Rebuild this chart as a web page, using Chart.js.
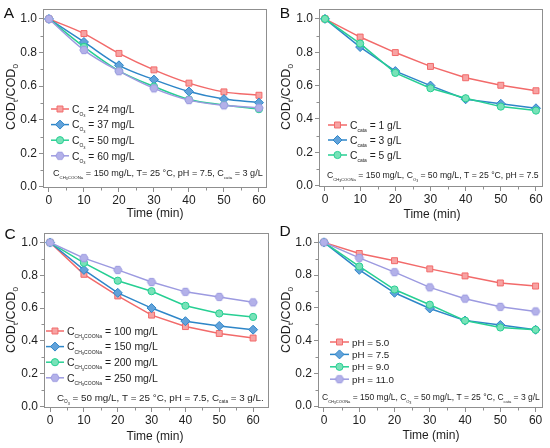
<!DOCTYPE html>
<html>
<head>
<meta charset="utf-8">
<script src="https://cdn.jsdelivr.net/npm/chart.js@4.4.1/dist/chart.umd.min.js"></script>
<style>
  html, body { margin: 0; padding: 0; background: #fff; }
  #grid { display: grid; grid-template-columns: 275px 275px; grid-template-rows: 224px 224px; width: 550px; height: 448px; }
  .cell { position: relative; width: 275px; height: 224px; }
</style>
</head>
<body>
<div id="grid">
  <div class="cell"><canvas id="panelA"></canvas></div>
  <div class="cell"><canvas id="panelB"></canvas></div>
  <div class="cell"><canvas id="panelC"></canvas></div>
  <div class="cell"><canvas id="panelD"></canvas></div>
</div>
<script>
// time axis and ticks
const times = [0, 10, 20, 30, 40, 50, 60];
const xTicks = [0, 10, 20, 30, 40, 50, 60];
const xMinor = [5, 15, 25, 35, 45, 55, 65];
const yTicks = [0.0, 0.2, 0.4, 0.6, 0.8, 1.0];
const yMinor = [0.1, 0.3, 0.5, 0.7, 0.9];

// A: ozone concentration
const codO3_24 = [1.0, 0.913, 0.795, 0.697, 0.618, 0.566, 0.546];
const codO3_37 = [1.0, 0.863, 0.724, 0.639, 0.568, 0.523, 0.502];
const codO3_50 = [1.0, 0.834, 0.691, 0.598, 0.521, 0.488, 0.463];
const codO3_60 = [1.0, 0.815, 0.689, 0.587, 0.517, 0.486, 0.471];

// B: catalyst dose
const codCata1 = [1.0, 0.891, 0.798, 0.715, 0.647, 0.602, 0.569];
const codCata3 = [1.0, 0.831, 0.687, 0.600, 0.518, 0.491, 0.464];
const codCata5 = [1.0, 0.852, 0.676, 0.584, 0.524, 0.474, 0.450];

// C: sodium acetate concentration
const codAc100 = [1.0, 0.806, 0.674, 0.557, 0.487, 0.445, 0.417];
const codAc150 = [1.0, 0.833, 0.693, 0.600, 0.520, 0.491, 0.468];
const codAc200 = [1.0, 0.876, 0.767, 0.703, 0.614, 0.567, 0.546];
const codAc250 = [1.0, 0.905, 0.833, 0.759, 0.699, 0.668, 0.635];

// D: pH
const codPh50 = [1.0, 0.932, 0.888, 0.838, 0.795, 0.752, 0.733];
const codPh75 = [1.0, 0.832, 0.692, 0.596, 0.522, 0.495, 0.466];
const codPh90 = [1.0, 0.853, 0.712, 0.619, 0.522, 0.480, 0.466];
const codPh110 = [1.0, 0.905, 0.818, 0.725, 0.656, 0.606, 0.578];

// rich text pieces: [text, level] level 0 normal, 1 subscript, 2 sub-subscript
const CO3 = [['C', 0], ['O', 1], ['3', 2]];
const CAC = [['C', 0], ['CH', 1], ['3', 2], ['COONa', 1]];
const CCATA = [['C', 0], ['cata', 1]];
const t = s => [[s, 0]];

const labelsA = [
  [...CO3, ...t(' = 24 mg/L')], [...CO3, ...t(' = 37 mg/L')],
  [...CO3, ...t(' = 50 mg/L')], [...CO3, ...t(' = 60 mg/L')]
];
const labelsB = [
  [...CCATA, ...t(' = 1 g/L')], [...CCATA, ...t(' = 3 g/L')], [...CCATA, ...t(' = 5 g/L')]
];
const labelsC = [
  [...CAC, ...t(' = 100 mg/L')], [...CAC, ...t(' = 150 mg/L')],
  [...CAC, ...t(' = 200 mg/L')], [...CAC, ...t(' = 250 mg/L')]
];
const labelsD = [t('pH = 5.0'), t('pH = 7.5'), t('pH = 9.0'), t('pH = 11.0')];

const noteA = [...CAC, ...t(' = 150 mg/L, T= 25 \u00B0C, pH = 7.5, '), ...CCATA, ...t(' = 3 g/L')];
const noteB = [...CAC, ...t(' = 150 mg/L, '), ...CO3, ...t(' = 50 mg/L, T = 25 \u00B0C, pH = 7.5')];
const noteC = [...CO3, ...t(' = 50 mg/L, T = 25 \u00B0C, pH = 7.5, '), ...CCATA, ...t(' = 3 g/L.')];
const noteD = [...CAC, ...t(' = 150 mg/L, '), ...CO3, ...t(' = 50 mg/L, T = 25 \u00B0C, '), ...CCATA, ...t(' = 3 g/L')];

const yTitle = [['COD', 0], ['t', 1], ['/COD', 0], ['0', 1]];

const FONT = '"Liberation Sans", Arial, Helvetica, sans-serif';
const TEXT = '#1e1e1e';
const FRAME = '#8f8f8f';

function hexagon(r, fill, stroke) {
  const c = document.createElement('canvas');
  const s = Math.ceil(r * 2 + 3);
  c.width = c.height = s;
  const g = c.getContext('2d');
  g.beginPath();
  for (let k = 0; k < 6; k++) {
    const a = k * Math.PI / 3;
    const px = s / 2 + r * Math.cos(a), py = s / 2 + r * Math.sin(a);
    k ? g.lineTo(px, py) : g.moveTo(px, py);
  }
  g.closePath();
  g.fillStyle = fill; g.fill();
  g.strokeStyle = stroke; g.lineWidth = 1; g.stroke();
  return c;
}

const styles = [
  { line: '#f26a6a', fill: '#f7a3a3', point: 'rect', r: 4.2 },
  { line: '#2e86c8', fill: '#62a2da', point: 'rectRot', r: 4.5 },
  { line: '#27cf93', fill: '#78e2b8', point: 'circle', r: 3.6 },
  { line: '#9c9ae0', fill: '#b3b1e9', point: hexagon(4.2, '#b3b1e9', '#9c9ae0'), r: 4.2 }
];

// sub: relative size of first-level subscripts
function richParts(ctx, segs, size, sub) {
  return segs.map(([txt, lv]) => {
    const fs = lv === 0 ? size : lv === 1 ? size * sub : size * sub * 0.8;
    const dy = lv === 0 ? 0 : lv === 1 ? size * 0.3 : size * 0.45;
    ctx.font = fs + 'px ' + FONT;
    return { txt, fs, dy, w: ctx.measureText(txt).width };
  });
}

function drawRich(ctx, segs, x, cy, size, align, sub = 0.48) {
  const parts = richParts(ctx, segs, size, sub);
  const w = parts.reduce((a, p) => a + p.w, 0);
  let cx = align === 'center' ? x - w / 2 : x;
  const base = cy + size * 0.36;
  ctx.fillStyle = TEXT;
  ctx.textAlign = 'left';
  ctx.textBaseline = 'alphabetic';
  parts.forEach(p => {
    ctx.font = p.fs + 'px ' + FONT;
    ctx.fillText(p.txt, cx, base + p.dy);
    cx += p.w;
  });
}

function decoPlugin(d) {
  return {
    id: 'deco',
    afterDraw(chart) {
      const ctx = chart.ctx;
      const { left, top, right, bottom } = chart.chartArea;
      const xs = chart.scales.x, ys = chart.scales.y;
      ctx.save();
      // frame
      ctx.strokeStyle = FRAME;
      ctx.lineWidth = 1;
      ctx.strokeRect(Math.round(left) + 0.5, Math.round(top) + 0.5, Math.round(right - left) - 1, Math.round(bottom - top) - 1);
      // minor ticks
      ctx.beginPath();
      xMinor.forEach(v => {
        if (v < xs.min || v > xs.max) return;
        const px = Math.round(xs.getPixelForValue(v)) + 0.5;
        ctx.moveTo(px, bottom); ctx.lineTo(px, bottom + 2.5);
      });
      yMinor.forEach(v => {
        const py = Math.round(ys.getPixelForValue(v)) + 0.5;
        ctx.moveTo(left, py); ctx.lineTo(left - 2.5, py);
      });
      ctx.stroke();
      // panel letter
      ctx.fillStyle = '#111';
      ctx.font = '15.5px ' + FONT;
      ctx.textAlign = 'center';
      ctx.textBaseline = 'middle';
      ctx.fillText(d.letter, d.letterPos[0], d.letterPos[1]);
      // axis titles
      drawRich(ctx, t('Time (min)'), d.xTitle[0], d.xTitle[1], 12, 'center');
      ctx.save();
      ctx.translate(d.yTitle[0], d.yTitle[1]);
      ctx.rotate(-Math.PI / 2);
      drawRich(ctx, yTitle, 0, 0, 12.5, 'center', 0.65);
      ctx.restore();
      // legend
      const lg = d.legend;
      lg.labels.forEach((lab, i) => {
        const st = styles[i];
        const cy = lg.y + i * lg.dy;
        ctx.strokeStyle = st.line;
        ctx.lineWidth = 1.5;
        ctx.beginPath();
        ctx.moveTo(lg.x, cy); ctx.lineTo(lg.x + lg.len, cy);
        ctx.stroke();
        ctx.fillStyle = st.fill;
        ctx.strokeStyle = st.line;
        ctx.lineWidth = 1;
        Chart.helpers.drawPoint(ctx, { pointStyle: st.point, radius: st.r, rotation: 0, borderWidth: 1 }, lg.x + lg.len / 2, cy);
        drawRich(ctx, lab, lg.x + lg.len + 3, cy, lg.size, 'left');
      });
      // condition note, scaled to its width
      const n = d.note;
      const w0 = richParts(ctx, n.segs, 10, 0.48).reduce((a, p) => a + p.w, 0);
      drawRich(ctx, n.segs, n.x, n.y, 10 * n.w / w0, 'left');
      ctx.restore();
    }
  };
}

function makePanel(id, series, d) {
  const W = 275, H = 224, yW = 30, xH = 20;
  const box = d.box;
  new Chart(document.getElementById(id), {
    type: 'line',
    data: {
      labels: times,
      datasets: series.map((vals, i) => ({
        data: times.map((x, k) => ({ x, y: vals[k] })),
        borderColor: styles[i].line,
        backgroundColor: styles[i].fill,
        pointBackgroundColor: styles[i].fill,
        pointBorderColor: styles[i].line,
        pointBorderWidth: 1,
        pointStyle: styles[i].point,
        pointRadius: styles[i].r,
        borderWidth: 1.5,
        cubicInterpolationMode: d.smooth ? 'monotone' : 'default',
        tension: 0,
        order: -i
      }))
    },
    options: {
      responsive: true,
      maintainAspectRatio: false,
      animation: false,
      events: [],
      layout: { padding: { left: box.left - yW, top: box.top, right: W - box.right, bottom: H - box.bottom - xH } },
      plugins: { legend: { display: false }, tooltip: { enabled: false } },
      scales: {
        x: {
          type: 'linear', min: d.xRange[0], max: d.xRange[1],
          afterFit: s => { s.height = xH; },
          afterBuildTicks: s => { s.ticks = xTicks.map(v => ({ value: v })); },
          border: { display: false },
          grid: { drawOnChartArea: false, drawTicks: true, tickLength: 4, color: FRAME },
          ticks: { font: { family: FONT, size: 12 }, color: TEXT, padding: 1, maxRotation: 0, autoSkip: false }
        },
        y: {
          type: 'linear', min: d.yRange[0], max: d.yRange[1],
          afterFit: s => { s.width = yW; },
          afterBuildTicks: s => { s.ticks = yTicks.map(v => ({ value: v })); },
          border: { display: false },
          grid: { drawOnChartArea: false, drawTicks: true, tickLength: 4, color: FRAME },
          ticks: { font: { family: FONT, size: 12 }, color: TEXT, padding: 2, callback: v => v.toFixed(1) }
        }
      }
    },
    plugins: [decoPlugin(d)]
  });
}

makePanel('panelA', [codO3_24, codO3_37, codO3_50, codO3_60], {
  box: { left: 43, top: 4, right: 267, bottom: 188 }, xRange: [-1.7, 62.3], yRange: [-0.006, 1.058], smooth: true,
  letter: 'A', letterPos: [9, 14], xTitle: [155, 213], yTitle: [10, 97],
  legend: { x: 51, y: 109, dy: 15.6, len: 18, size: 10.3, labels: labelsA },
  note: { x: 53, y: 173, w: 210, segs: noteA }
});
makePanel('panelB', [codCata1, codCata3, codCata5], {
  box: { left: 44, top: 4, right: 268, bottom: 187 }, xRange: [-1.7, 62], yRange: [-0.008, 1.058], smooth: false,
  letter: 'B', letterPos: [10, 14], xTitle: [157, 214], yTitle: [10, 97],
  legend: { x: 53, y: 125, dy: 15, len: 19, size: 10.3, labels: labelsB },
  note: { x: 52, y: 175, w: 212, segs: noteB }
});
makePanel('panelC', [codAc100, codAc150, codAc200, codAc250], {
  box: { left: 44, top: 1, right: 269, bottom: 184 }, xRange: [-1.8, 64.7], yRange: [-0.01, 1.057], smooth: false,
  letter: 'C', letterPos: [10, 11], xTitle: [155, 212], yTitle: [10, 96],
  legend: { x: 46, y: 107, dy: 15.6, len: 18, size: 10.5, labels: labelsC },
  note: { x: 57, y: 173, w: 207, segs: noteC }
});
makePanel('panelD', [codPh50, codPh75, codPh90, codPh110], {
  box: { left: 43, top: 0, right: 268, bottom: 184 }, xRange: [-1.7, 62.1], yRange: [-0.012, 1.056], smooth: false,
  letter: 'D', letterPos: [10, 8], xTitle: [156, 211], yTitle: [10, 96],
  legend: { x: 55, y: 118, dy: 12.4, len: 19, size: 9.8, labels: labelsD },
  note: { x: 47, y: 173, w: 218, segs: noteD }
});
</script>
</body>
</html>
